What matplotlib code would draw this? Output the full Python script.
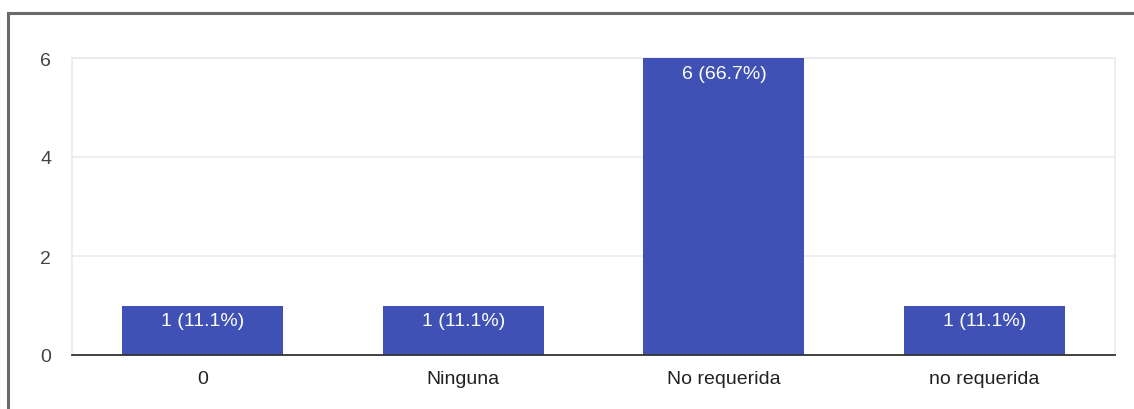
import matplotlib
matplotlib.use("Agg")
import matplotlib.pyplot as plt
from matplotlib.lines import Line2D

categories = ["0", "Ninguna", "No requerida", "no requerida"]
counts = [1, 1, 6, 1]
percent_labels = ["11.1%", "11.1%", "66.7%", "11.1%"]
y_ticks = [0, 2, 4, 6]

W, H = 1134, 410
fig = plt.figure(figsize=(W / 100, H / 100), dpi=100)
fig.patch.set_facecolor("white")

plt.rcParams["font.family"] = ["Liberation Sans", "DejaVu Sans"]

# card border (top and left edges)
fig.add_artist(Line2D([8 / W, 1.0], [1 - 14 / H, 1 - 14 / H], color="#6b6b6b", lw=2.2, transform=fig.transFigure))
fig.add_artist(Line2D([8 / W, 8 / W], [0, 1 - 14 / H], color="#6b6b6b", lw=2.2, transform=fig.transFigure))

left, right, top, base = 72, 1115, 59, 356
ax = fig.add_axes([left / W, 1 - base / H, (right - left) / W, (base - top) / H])

x = list(range(len(categories)))
bars = ax.bar(x, counts, width=0.617, color="#3f51b5", zorder=3)

ax.set_xlim(-0.5, len(categories) - 0.5)
ax.set_ylim(0, 6)
ax.set_yticks(y_ticks)
ax.set_xticks(x)
ax.set_xticklabels(categories, fontsize=14, color="#222222")
ax.set_yticklabels([str(t) for t in y_ticks], fontsize=14, color="#444444")
ax.tick_params(axis="both", length=0)
ax.tick_params(axis="y", pad=15)
ax.tick_params(axis="x", pad=11)

ax.grid(axis="y", color="#ebebeb", lw=1.2, zorder=0)
for side in ["left", "top", "right"]:
    ax.spines[side].set_color("#ebebeb")
    ax.spines[side].set_linewidth(1.2)
ax.spines["bottom"].set_color("#333333")
ax.spines["bottom"].set_linewidth(1.3)
ax.spines["bottom"].set_zorder(4)

for rect, c, p in zip(bars, counts, percent_labels):
    ax.annotate(f"{c} ({p})", xy=(rect.get_x() + rect.get_width() / 2, c),
                xytext=(0, -11), textcoords="offset points",
                ha="center", va="center", color="white", fontsize=14, zorder=5)

fig.savefig("out.png", dpi=100)
